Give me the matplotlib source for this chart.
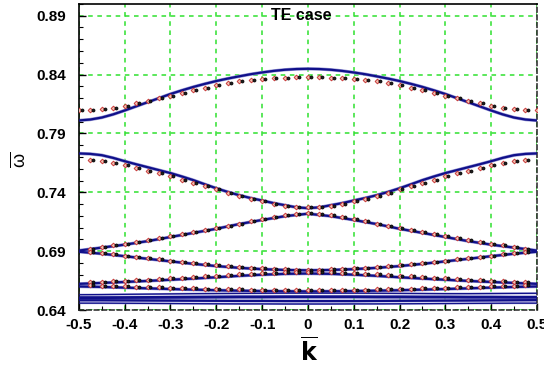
import numpy as np
import matplotlib
matplotlib.use("Agg")
import matplotlib.pyplot as plt
import matplotlib.transforms as mtransforms
from matplotlib.ticker import MultipleLocator

plt.rcParams['font.family'] = ['Liberation Sans', 'DejaVu Sans']

# reduced wave vector grids
K_FINE = np.linspace(-0.5, 0.5, 41)
K_LINE = np.linspace(-0.5, 0.5, 21)
K_DOTS = np.linspace(-0.475, 0.475, 39)

# theory bands (normalised frequency)
BAND1 = [0.8010, 0.8018, 0.8035, 0.8062, 0.8095, 0.8130, 0.8165, 0.8200, 0.8235, 0.8266, 0.8295,
         0.8321, 0.8345, 0.8366, 0.8385, 0.8403, 0.8418, 0.8431, 0.8441, 0.8447, 0.8449, 0.8447,
         0.8441, 0.8431, 0.8418, 0.8403, 0.8385, 0.8366, 0.8345, 0.8321, 0.8295, 0.8266, 0.8235,
         0.8200, 0.8165, 0.8130, 0.8095, 0.8062, 0.8035, 0.8018, 0.8010]
BAND2 = [0.7730, 0.7726, 0.7715, 0.7692, 0.7664, 0.7638, 0.7613, 0.7588, 0.7563, 0.7534, 0.7503,
         0.7468, 0.7434, 0.7403, 0.7375, 0.7351, 0.7330, 0.7308, 0.7290, 0.7272, 0.7265, 0.7272,
         0.7290, 0.7308, 0.7330, 0.7351, 0.7375, 0.7403, 0.7434, 0.7468, 0.7503, 0.7534, 0.7563,
         0.7588, 0.7613, 0.7638, 0.7664, 0.7692, 0.7715, 0.7726, 0.7730]
BAND3 = [0.6905, 0.693, 0.6955, 0.6985, 0.702, 0.7055, 0.709, 0.713, 0.7165, 0.7197, 0.7218,
         0.7197, 0.7165, 0.713, 0.709, 0.7055, 0.702, 0.6985, 0.6955, 0.693, 0.6905]
BAND4 = [0.6895, 0.6878, 0.6857, 0.6835, 0.6813, 0.6792, 0.6773, 0.6758, 0.6747, 0.674, 0.6737,
         0.674, 0.6747, 0.6758, 0.6773, 0.6792, 0.6813, 0.6835, 0.6857, 0.6878, 0.6895]
BAND5 = [0.6622, 0.663, 0.6638, 0.6647, 0.6657, 0.6667, 0.6678, 0.669, 0.67, 0.6707, 0.671,
         0.6707, 0.67, 0.669, 0.6678, 0.6667, 0.6657, 0.6647, 0.6638, 0.663, 0.6622]
BAND6 = [0.66, 0.6596, 0.659, 0.6584, 0.6578, 0.6573, 0.6568, 0.6564, 0.6561, 0.6559, 0.6558,
         0.6559, 0.6561, 0.6564, 0.6568, 0.6573, 0.6578, 0.6584, 0.659, 0.6596, 0.66]
FLAT1 = [0.6530, 0.6531, 0.6533, 0.6535, 0.6537, 0.6539, 0.6540, 0.6541, 0.6542, 0.6543, 0.6543,
         0.6543, 0.6543, 0.6542, 0.6541, 0.6540, 0.6539, 0.6539, 0.6540, 0.6541, 0.6542]
FLAT2 = [0.6505, 0.6505, 0.6506, 0.6507, 0.6508, 0.6509, 0.6510, 0.6511, 0.6511, 0.6512, 0.6512,
         0.6512, 0.6512, 0.6511, 0.6511, 0.6510, 0.6510, 0.6509, 0.6509, 0.6508, 0.6508]
FLAT3 = [0.6483, 0.6483, 0.6482, 0.6481, 0.6480, 0.6479, 0.6478, 0.6477, 0.6477, 0.6476, 0.6476,
         0.6476, 0.6476, 0.6477, 0.6478, 0.6479, 0.6480, 0.6481, 0.6482, 0.6483, 0.6484]
FLAT4 = [0.6458, 0.6458, 0.6457, 0.6456, 0.6455, 0.6454, 0.6453, 0.6452, 0.6452, 0.6451, 0.6451,
         0.6451, 0.6452, 0.6452, 0.6453, 0.6454, 0.6455, 0.6456, 0.6457, 0.6458, 0.6458]

# simulated eigenfrequencies
SIM1 = [0.8100, 0.8102, 0.8106, 0.8118, 0.8135, 0.8155, 0.8178, 0.8200, 0.8222, 0.8245, 0.8267,
        0.8290, 0.8310, 0.8327, 0.8342, 0.8353, 0.8362, 0.8370, 0.8375, 0.8378, 0.8379, 0.8378,
        0.8375, 0.8370, 0.8362, 0.8353, 0.8342, 0.8327, 0.8310, 0.8290, 0.8267, 0.8245, 0.8222,
        0.8200, 0.8178, 0.8155, 0.8135, 0.8118, 0.8106, 0.8102, 0.8100]
SIM2 = [0.7677, 0.7665, 0.7648, 0.7630, 0.7608, 0.7585, 0.7560, 0.7535, 0.7508, 0.7480, 0.7452,
        0.7425, 0.7398, 0.7370, 0.7345, 0.7322, 0.7300, 0.7285, 0.7275, 0.7272, 0.7275, 0.7285,
        0.7300, 0.7322, 0.7345, 0.7370, 0.7398, 0.7425, 0.7452, 0.7480, 0.7508, 0.7535, 0.7560,
        0.7585, 0.7608, 0.7630, 0.7648, 0.7665, 0.7677]
SIM3 = [0.6922, 0.6935, 0.6948, 0.6961, 0.6975, 0.6991, 0.7008, 0.7025, 0.7043, 0.7060, 0.7078,
        0.7096, 0.7115, 0.7134, 0.7152, 0.7170, 0.7188, 0.7203, 0.7215, 0.7220, 0.7215, 0.7203,
        0.7188, 0.7170, 0.7152, 0.7134, 0.7115, 0.7096, 0.7078, 0.7060, 0.7043, 0.7025, 0.7008,
        0.6991, 0.6975, 0.6961, 0.6948, 0.6935, 0.6922]
SIM4 = [0.6892, 0.6884, 0.6874, 0.6863, 0.6852, 0.6841, 0.6830, 0.6819, 0.6808, 0.6798, 0.6788,
        0.6779, 0.6771, 0.6764, 0.6758, 0.6753, 0.6749, 0.6746, 0.6744, 0.6743, 0.6744, 0.6746,
        0.6749, 0.6753, 0.6758, 0.6764, 0.6771, 0.6779, 0.6788, 0.6798, 0.6808, 0.6819, 0.6830,
        0.6841, 0.6852, 0.6863, 0.6874, 0.6884, 0.6892]
SIM5 = [0.6638, 0.6642, 0.6646, 0.6650, 0.6654, 0.6659, 0.6664, 0.6669, 0.6674, 0.6679, 0.6685,
        0.6690, 0.6696, 0.6702, 0.6707, 0.6712, 0.6716, 0.6719, 0.6721, 0.6722, 0.6721, 0.6719,
        0.6716, 0.6712, 0.6707, 0.6702, 0.6696, 0.6690, 0.6685, 0.6679, 0.6674, 0.6669, 0.6664,
        0.6659, 0.6654, 0.6650, 0.6646, 0.6642, 0.6638]
SIM6 = [0.6610, 0.6608, 0.6605, 0.6602, 0.6599, 0.6596, 0.6593, 0.6590, 0.6587, 0.6585, 0.6582,
        0.6580, 0.6578, 0.6576, 0.6574, 0.6573, 0.6572, 0.6571, 0.6570, 0.6570, 0.6570, 0.6571,
        0.6572, 0.6573, 0.6574, 0.6576, 0.6578, 0.6580, 0.6582, 0.6585, 0.6587, 0.6590, 0.6593,
        0.6596, 0.6599, 0.6602, 0.6605, 0.6608, 0.6610]

X_TICKS = [-0.5, -0.4, -0.3, -0.2, -0.1, 0, 0.1, 0.2, 0.3, 0.4, 0.5]
X_LABELS = ['-0.5', '-0.4', '-0.3', '-0.2', '-0.1', '0', '0.1', '0.2', '0.3', '0.4', '0.5']
Y_TICKS = [0.64, 0.69, 0.74, 0.79, 0.84, 0.89]

NAVY = '#10108a'
HALO = '#9a9ad6'
GREEN = '#2fe02f'

fig = plt.figure(figsize=(5.44, 3.71), dpi=100)
ax = fig.add_axes([0.145, 0.1644, 0.842, 0.825])

ax.set_xlim(-0.5, 0.5)
ax.set_ylim(0.64, 0.90)

# green dashed grid
for x in X_TICKS:
    ax.axvline(x, color=GREEN, lw=1.1, ls=(0, (3, 3)), zorder=0)
for y in Y_TICKS:
    ax.axhline(y, color=GREEN, lw=1.1, ls=(0, (3, 3)), zorder=0)

# theory curves
curves = [(K_FINE, BAND1, 1.6, 0.8), (K_FINE, BAND2, 1.6, 0.8), (K_LINE, BAND3, 1.6, 0.8),
          (K_LINE, BAND4, 1.6, 0.8), (K_LINE, BAND5, 1.6, 0.8), (K_LINE, BAND6, 1.6, 0.8),
          (K_LINE, FLAT1, 0.9, 0.5), (K_LINE, FLAT2, 2.0, 0.5), (K_LINE, FLAT3, 1.6, 0.5),
          (K_LINE, FLAT4, 0.9, 0.5)]
for kk, band, lw, halo in curves:
    ax.plot(kk, band, color=HALO, lw=lw + halo, zorder=2, solid_capstyle='butt')
    ax.plot(kk, band, color=NAVY, lw=lw, zorder=3, solid_capstyle='butt')

# simulation points: red and black markers alternate along each band
shift = mtransforms.offset_copy(ax.transData, fig=fig, x=2.9, y=0.0, units='dots')
sims = [(K_FINE, SIM1), (K_DOTS, SIM2), (K_DOTS, SIM3), (K_DOTS, SIM4),
        (K_DOTS, SIM5), (K_DOTS, SIM6)]
for kk, vals in sims:
    ax.plot(kk, vals, ls='none', marker='D', ms=2.4, mfc='#f3c0b0', mec='#c83c3c',
            mew=0.7, zorder=4)
    ax.plot(kk, vals, ls='none', marker='o', ms=2.2, mfc='#202020', mec='#000000',
            mew=0.5, zorder=5, transform=shift)

ax.text(-0.015, 0.89, 'TE case', ha='center', va='center', fontsize=11.5,
        fontweight='bold', zorder=6)

# axes and ticks
ax.set_xticks(X_TICKS)
ax.set_xticklabels(X_LABELS)
ax.set_yticks(Y_TICKS)
ax.set_yticklabels([f'{v:.2f}' for v in Y_TICKS])
ax.xaxis.set_minor_locator(MultipleLocator(0.05))
ax.yaxis.set_minor_locator(MultipleLocator(0.01))
ax.tick_params(which='major', direction='in', length=5, width=1, color='black',
               labelsize=11, top=False, right=False)
ax.tick_params(which='minor', direction='in', length=3, width=0.8, top=False, right=False)
ax.tick_params(axis='y', pad=9)
ax.tick_params(axis='x', pad=6)
for lab in ax.get_xticklabels() + ax.get_yticklabels():
    lab.set_fontweight('bold')

for side in ['left', 'top']:
    ax.spines[side].set_color('black')
    ax.spines[side].set_linewidth(1.2)
for side in ['right', 'bottom']:
    ax.spines[side].set_color('#222222')
    ax.spines[side].set_linewidth(1.1)
    ax.spines[side].set_linestyle((0, (3, 2)))

fig.text(0.568, 0.05, r'$\overline{\mathbf{k}}$', ha='center', va='center', fontsize=17)
fig.text(0.037, 0.57, r'$\overline{\mathregular{\omega}}$', ha='center', va='center',
         fontsize=13, rotation=90)

fig.savefig('out.png', dpi=100)
